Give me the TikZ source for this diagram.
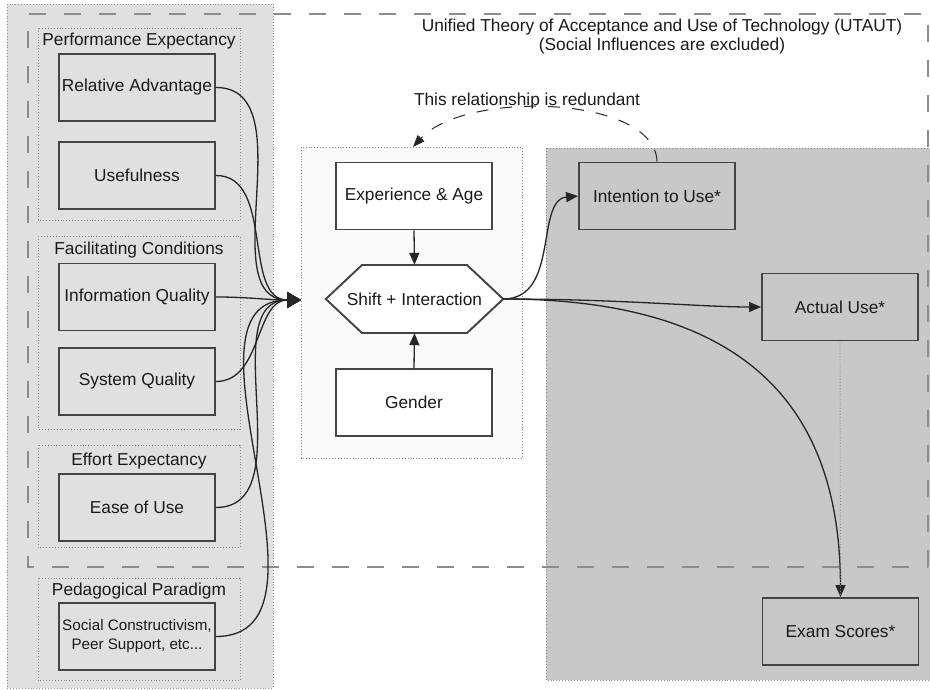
\documentclass[tikz,border=0pt]{standalone}
\usepackage{fontspec}
\setmainfont{Liberation Sans}
\usetikzlibrary{arrows.meta,calc}
\definecolor{lpanel}{HTML}{E0E0E0}
\definecolor{mpanel}{HTML}{FAFAFA}
\definecolor{rpanel}{HTML}{C8C8C8}
\definecolor{boxline}{HTML}{444444}
\definecolor{dotline}{HTML}{8A8A8A}
\definecolor{dashline}{HTML}{8C8C8C}
\definecolor{txt}{HTML}{1A1A1A}
\begin{document}
\begin{tikzpicture}[x=1pt,y=-1pt,
  every node/.style={text=txt,font=\fontsize{17.3}{19}\selectfont},
  box/.style={draw=boxline,line width=1.9pt,minimum width=156pt,minimum height=67pt,inner sep=2pt,align=center},
  grp/.style={draw=dotline,line width=0.9pt,dotted},
  panel/.style={draw=dotline,line width=0.9pt,dotted},
  gtitle/.style={inner sep=0pt},
  conn/.style={draw=black!85,line width=1.3pt},
  tip/.style={-{Triangle[length=12pt,width=10pt]}},
  bigtip/.style={-{Triangle[length=14pt,width=16pt]}},
  utaut/.style={draw=dashline,line width=2.2pt,dash pattern=on 17pt off 18pt}
]
\useasboundingbox (0,0) rectangle (930,690);
\fill[white] (0,0) rectangle (930,690);

% panels
\draw[panel,fill=lpanel] (7,4) rectangle (273,688);
\draw[panel,fill=mpanel] (301,147) rectangle (522,458);
\draw[panel,fill=rpanel] (546,148) rectangle (940,680);

% UTAUT dashed frame
\draw[utaut] (928,567) -- (928,14) -- (28,14) -- (28,567) -- (928,567);

% groups
\draw[grp] (38,28) rectangle (240,220);
\draw[grp] (38,236) rectangle (240,429);
\draw[grp] (38,445) rectangle (240,547);
\draw[grp] (38,578) rectangle (240,680);

\node[gtitle] (tpe) at (139,41) {Performance Expectancy};
\node[gtitle] (tfc) at (139,250) {Facilitating Conditions};
\node[gtitle] (tee) at (139,461) {Effort Expectancy};
\node[gtitle] (tpp) at (139,591) {Pedagogical Paradigm};

% left boxes
\node[box,fill=lpanel] (ra) at (137,87.5) {Relative Advantage};
\node[box,fill=lpanel] (use) at (137,175.5) {Usefulness};
\node[box,fill=lpanel] (iq) at (137,297) {Information Quality};
\node[box,fill=lpanel] (sq) at (137,381.5) {System Quality};
\node[box,fill=lpanel] (eou) at (137,507.5) {Ease of Use};
\node[box,fill=lpanel,font=\fontsize{15.2}{19}\selectfont] (sc) at (137,636.5) {Social Constructivism,\\Peer Support, etc...};

% middle
\node[box,fill=white] (exp) at (414,196) {Experience \& Age};
\fill[white] (326,299) -- (362,265) -- (467,265) -- (503,299) -- (467,333) -- (362,333) -- cycle;
\node[minimum width=177pt,minimum height=68pt,inner sep=0pt] (hex) at (414.5,299) {Shift + Interaction};
\draw[boxline,line width=1.9pt,line join=miter] (hex.west) -- (362,265) -- (467,265) -- (hex.east) -- (467,333) -- (362,333) -- cycle;
\node[box,fill=white] (gen) at (414,402.5) {Gender};

% right
\node[box,fill=rpanel] (int) at (657,196) {Intention to Use*};
\node[box,fill=rpanel] (act) at (840,307) {Actual Use*};
\node[box,fill=rpanel] (exam) at (840.5,631.5) {Exam Scores*};

% titles
\node[align=center,inner sep=0pt] (title) at (662,36.5) {Unified Theory of Acceptance and Use of Technology (UTAUT)\\(Social Influences are excluded)};
\node[inner sep=0pt] (redund) at (527,101) {This relationship is redundant};

% connectors
\coordinate (conv) at (301,300);
\coordinate (midtop) at (413,147);
\foreach \n in {ra,use,iq,sq,eou,sc}
  \draw[conn,bigtip] (\n.east) to[out=0,in=180] (conv);

\draw[conn,tip] (exp.south) -- (hex.north);
\draw[conn,tip] (gen.north) -- (hex.south);

\draw[conn,tip] (hex.east) .. controls (560,299) and (535,200) .. (int.west);
\draw[conn,tip] (hex.east) .. controls (620,299) and (700,307) .. (act.west);
\draw[conn,tip] (hex.east) .. controls (760,299) and (840,420) .. (exam.north);
\draw[draw=dotline,line width=0.9pt,dotted] (act.south) -- (exam.north);

\draw[black!85,line width=1pt,dash pattern=on 12pt off 12pt,-{Triangle[length=12pt,width=9pt]}]
  (int.north) .. controls (655,95) and (465,90) .. (midtop);
\end{tikzpicture}
\end{document}
